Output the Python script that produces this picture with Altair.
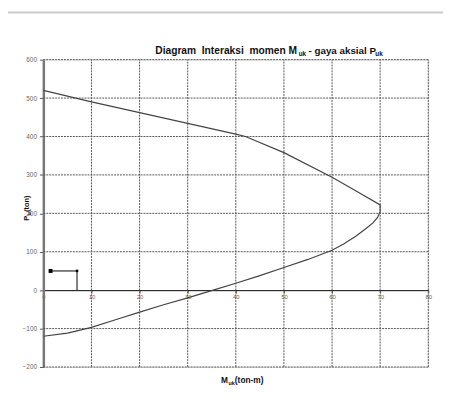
import altair as alt
import pandas as pd

# ---- data ----
upper_m = [0, 10, 20, 30, 40, 42, 50, 60, 65, 70]
upper_p = [520, 490, 462, 434, 406, 400, 358, 294, 258, 222]

lower_m = [70, 70, 69.5, 68.5, 67, 65, 62.5, 60, 55, 50, 45, 40, 35.3, 30, 25, 20, 15, 10, 7, 5, 0]
lower_p = [220, 205, 190, 175, 160, 141, 121, 104, 80, 59, 38, 18, 0, -20, -38, -57, -77, -97, -106, -112, -120]

load_m = [1.5, 7, 7]
load_p = [50, 50, 0]

x_ticks = [0, 10, 20, 30, 40, 50, 60, 70, 80]
y_ticks = [-200, -100, 0, 100, 200, 300, 400, 500, 600]

W, H = 392, 313
FONT = "Liberation Sans"
NB = "\u00a0"

m = upper_m + lower_m
p = upper_p + lower_p
curve = pd.DataFrame({"m": m, "p": p, "order": list(range(len(m)))})
load = pd.DataFrame({"m": load_m, "p": load_p, "order": list(range(len(load_m)))})

xs = alt.Scale(domain=[0, 80], nice=False, zero=False)
ys = alt.Scale(domain=[-200, 600], nice=False, zero=False)

AX = alt.Axis(
    values=x_ticks, offset=-H * 200 / 800, grid=False, domainColor="#000", domainWidth=1,
    tickColor="#555", tickSize=3, labelFontSize=6, labelColor="#666", labelPadding=1,
    labelFont=FONT, labelFlush=False, labelOverlap=False, title=None)
AY = alt.Axis(
    values=y_ticks, grid=False, domainColor="#777", domainWidth=2.5, tickColor="#555",
    tickSize=4, labelFontSize=6.5, labelColor="#666", labelPadding=3, labelFont=FONT,
    labelOverlap=False, labelFlush=False, title=None)

vgrid = pd.DataFrame({"gx": [v for v in x_ticks if v != 0], "y1": -200, "y2": 600})
hgrid = pd.DataFrame({"gy": [v for v in y_ticks if v != 0], "x1": 0, "x2": 80})

dash = [2, 1]
grid_v = alt.Chart(vgrid).mark_rule(color="#555", strokeWidth=1, strokeDash=dash).encode(
    x=alt.X("gx:Q", scale=xs, axis=AX), y=alt.Y("y1:Q", scale=ys, axis=AY), y2="y2:Q")
grid_h = alt.Chart(hgrid).mark_rule(color="#555", strokeWidth=1, strokeDash=dash).encode(
    y=alt.Y("gy:Q", scale=ys, axis=AY), x=alt.X("x1:Q", scale=xs, axis=AX), x2="x2:Q")

line = alt.Chart(curve).mark_line(color="#444", strokeWidth=1.2).encode(
    x=alt.X("m:Q", scale=xs, axis=AX),
    y=alt.Y("p:Q", scale=ys, axis=AY),
    order="order:Q")

load_line = alt.Chart(load).mark_line(color="#000", strokeWidth=1).encode(
    x=alt.X("m:Q", scale=xs, axis=AX), y=alt.Y("p:Q", scale=ys, axis=AY), order="order:Q")
load_sq = alt.Chart(load.iloc[[0]]).mark_point(shape="square", filled=True, color="#000", size=16, opacity=1).encode(
    x=alt.X("m:Q", scale=xs, axis=AX), y=alt.Y("p:Q", scale=ys, axis=AY))
load_pt = alt.Chart(load.iloc[[1]]).mark_point(shape="circle", filled=True, color="#000", size=8, opacity=1).encode(
    x=alt.X("m:Q", scale=xs, axis=AX), y=alt.Y("p:Q", scale=ys, axis=AY))

one = pd.DataFrame({"a": [0]})


def txt(s, x, y, size, bold=True, angle=0, color="#111"):
    return alt.Chart(one).mark_text(
        text=s, align="left", baseline="alphabetic", font=FONT, fontSize=size,
        fontWeight="bold" if bold else "normal", angle=angle, color=color
    ).encode(x=alt.value(x), y=alt.value(y))


OX, OY = 44, 57  # page position of plot origin
texts = [
    txt(f"Diagram{NB}{NB}Interaksi{NB}{NB}momen{NB}M", 158 - OX, 51 - OY, 10.4),
    txt("uk", 304 - OX, 53 - OY, 6.5),
    txt("-\u00a0gaya\u00a0aksial\u00a0P", 314 - OX, 51 - OY, 10),
    txt("uk", 382 - OX, 53 - OY, 6.5),
    txt("M", 225 - OX, 386 - OY, 8.5),
    txt("uk", 232.5 - OX, 388 - OY, 5.5),
    txt(f"{NB}(ton-m)", 239 - OX, 386 - OY, 8.5),
    txt("P", 29 - OX, 221 - OY, 7.5, angle=270),
    txt("u", 31 - OX, 215.5 - OY, 5, angle=270),
    txt("(ton)", 29 - OX, 212 - OY, 7.5, angle=270),
]

top_rule = alt.Chart(one).mark_rule(color="#ccc", strokeWidth=2).encode(
    x=alt.value(7 - OX), x2=alt.value(451 - OX), y=alt.value(9 - OY))

chart = alt.layer(grid_v, grid_h, line, load_line, load_sq, load_pt, top_rule, *texts).properties(
    width=W, height=H,
    autosize=alt.AutoSizeParams(type="none"),
    padding={"left": 36, "top": 49, "right": 15, "bottom": 30},
).configure_view(stroke=None).configure(background="white")

chart.save("out.html", embed_options={"renderer": "svg", "actions": False})
